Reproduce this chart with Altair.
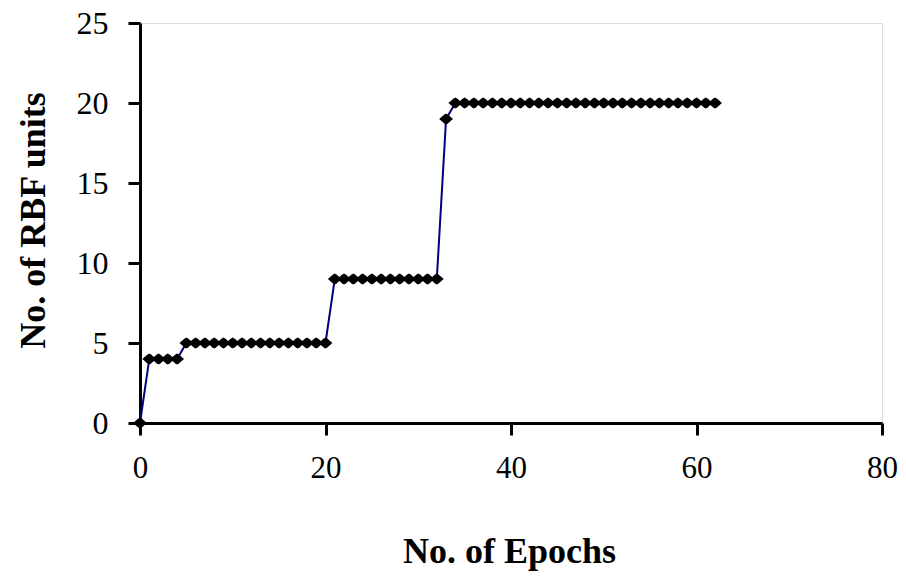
import altair as alt
import pandas as pd

epochs = [0, 1, 2, 3, 4, 5, 6, 7, 8, 9, 10, 11, 12, 13, 14, 15, 16, 17, 18, 19, 20,
          21, 22, 23, 24, 25, 26, 27, 28, 29, 30, 31, 32, 33,
          34, 35, 36, 37, 38, 39, 40, 41, 42, 43, 44, 45, 46, 47, 48, 49, 50,
          51, 52, 53, 54, 55, 56, 57, 58, 59, 60, 61, 62]
rbf_units = [0, 4, 4, 4, 4, 5, 5, 5, 5, 5, 5, 5, 5, 5, 5, 5, 5, 5, 5, 5, 5,
             9, 9, 9, 9, 9, 9, 9, 9, 9, 9, 9, 9, 19,
             20, 20, 20, 20, 20, 20, 20, 20, 20, 20, 20, 20, 20, 20, 20, 20, 20,
             20, 20, 20, 20, 20, 20, 20, 20, 20, 20, 20, 20]
x_ticks = [0, 20, 40, 60, 80]
y_ticks = [0, 5, 10, 15, 20, 25]

df = pd.DataFrame({"epoch": epochs, "units": rbf_units})

serif = "Liberation Serif"

x_enc = alt.X("epoch:Q", scale=alt.Scale(domain=[0, 80], nice=False),
              axis=alt.Axis(values=x_ticks, title="No. of Epochs", grid=False,
                            domainColor="black", domainWidth=3,
                            tickColor="black", tickWidth=3, tickSize=12,
                            labelFont=serif, labelFontSize=31, labelColor="black",
                            labelPadding=18, labelFlush=False, labelOverlap=False,
                            titleFont=serif, titleFontSize=36, titleFontWeight="bold",
                            titleColor="black", titleBaseline="middle",
                            titleY=128, titleX=369))
y_enc = alt.Y("units:Q", scale=alt.Scale(domain=[0, 25], nice=False),
              axis=alt.Axis(values=y_ticks, title="No. of RBF units", grid=False,
                            domainColor="black", domainWidth=3,
                            tickColor="black", tickWidth=3, tickSize=12,
                            labelFont=serif, labelFontSize=32, labelColor="black",
                            labelPadding=20, labelFlush=False, labelOverlap=False,
                            titleFont=serif, titleFontSize=36, titleFontWeight="bold",
                            titleColor="black", titleAngle=-90,
                            titleAlign="center", titleBaseline="middle",
                            titleX=-107, titleY=197))

line = alt.Chart(df).mark_line(color="#000080", strokeWidth=2).encode(x=x_enc, y=y_enc)
pts = alt.Chart(df).mark_point(
    shape="M-1,0L-0.3,-0.6L0,-0.8L0.3,-0.6L1,0L0.3,0.6L0,0.8L-0.3,0.6Z",
    size=190, filled=True, color="black", opacity=1
).encode(x="epoch:Q", y="units:Q")

chart = (line + pts).properties(
    width=742, height=400,
    autosize=alt.AutoSizeParams(type="none"),
    padding={"left": 132, "top": 15, "right": 16, "bottom": 149},
).configure_view(stroke="#808080", strokeWidth=2).configure(background="white")

chart.save("out.html", embed_options={"renderer": "svg", "actions": False})
